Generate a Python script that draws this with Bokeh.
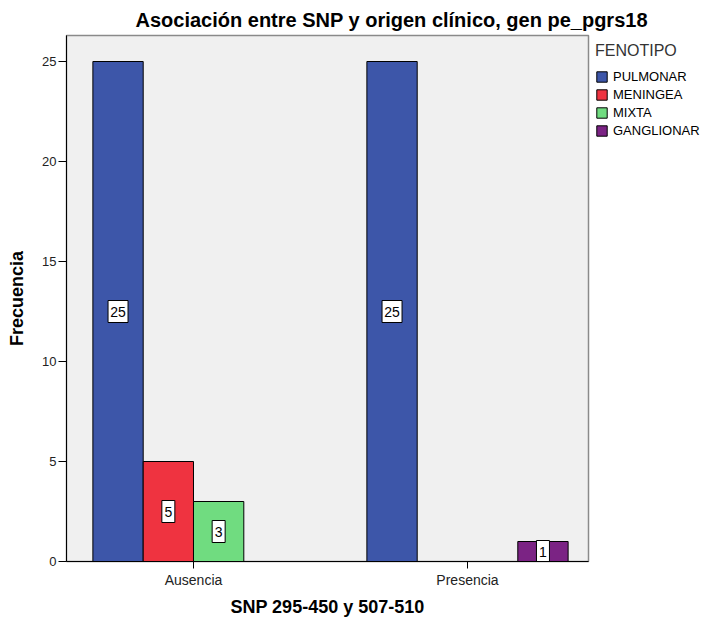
from bokeh.plotting import figure
from bokeh.models import ColumnDataSource, Legend, LegendItem, FixedTicker, Range1d
from bokeh.core.properties import value
from bokeh.embed import file_html
from bokeh.resources import INLINE

categories = ["Ausencia", "Presencia"]
series_names = ["PULMONAR", "MENINGEA", "MIXTA", "GANGLIONAR"]
pulmonar = [25, 25]
meningea = [5, 0]
mixta = [3, 0]
ganglionar = [0, 1]
colors = ["#3d56a9", "#ef3340", "#70dc80", "#7b2384"]
series_values = [pulmonar, meningea, mixta, ganglionar]

FONT = "Liberation Sans"
bar_w = 0.1836

p = figure(frame_width=522, frame_height=526, output_backend="svg", toolbar_location=None,
           x_range=Range1d(-0.4635, 1.4416), y_range=Range1d(0, 26.3),
           min_border_left=66, min_border_right=114, min_border_top=35, min_border_bottom=56)

p.background_fill_color = "#f0f0f0"
p.border_fill_color = "white"
p.outline_line_color = "#8a8a8a"
p.outline_line_width = 1.5
p.xgrid.visible = False
p.ygrid.visible = False

items = []
for i, (name, vals, col) in enumerate(zip(series_names, series_values, colors)):
    xs = [j + (i - 1.5) * bar_w for j in range(len(categories))]
    src = ColumnDataSource(dict(x=xs, top=vals))
    r = p.vbar(x="x", top="top", width=bar_w, source=src, fill_color=col,
               line_color="black", line_width=1)
    items.append(LegendItem(label=name, renderers=[r]))
    xs_l = [x for x, v in zip(xs, vals) if v > 0]
    src_l = ColumnDataSource(dict(x=xs_l, y=[v / 2 for v in vals if v > 0],
                                  lab=[str(v) for v in vals if v > 0]))
    src_l.data["w"] = [6 + 7 * len(s) for s in src_l.data["lab"]]
    p.rect(x="x", y="y", width="w", height=22, width_units="screen", height_units="screen",
           source=src_l, fill_color="white", line_color="black", line_width=1)
    p.text(x="x", y="y", text="lab", source=src_l, text_align="center",
           text_baseline="middle", text_font=value(FONT), text_font_size="14px",
           text_color="black")

legend = Legend(items=items, location="top_left", title="FENOTIPO",
                title_text_font=FONT, title_text_font_size="16px",
                title_text_font_style="normal", title_text_color="#333333",
                title_standoff=9,
                label_text_font=FONT, label_text_font_size="13px", label_text_color="black",
                glyph_width=13, glyph_height=13, label_height=13, spacing=3,
                label_standoff=5, padding=0, margin=7,
                background_fill_alpha=0, border_line_color=None)
p.add_layout(legend, "right")

p.title.text = "Asociación entre SNP y origen clínico, gen pe_pgrs18"
p.title.text_font = FONT
p.title.text_font_size = "20px"
p.title.text_font_style = "bold"
p.title.align = "left"
p.title.offset = 69
p.title.text_color = "black"

p.xaxis.ticker = FixedTicker(ticks=[0, 1])
p.xaxis.major_label_overrides = {0: "Ausencia", 1: "Presencia"}
p.xaxis.axis_label = "SNP 295-450 y 507-510"
p.xaxis.major_tick_in = 0
p.xaxis.major_tick_out = 7
p.xaxis.major_label_standoff = 3
p.xaxis.minor_tick_line_color = None
p.yaxis.ticker = FixedTicker(ticks=[0, 5, 10, 15, 20, 25])
p.yaxis.axis_label = "Frecuencia"
p.yaxis.major_tick_in = 0
p.yaxis.major_tick_out = 8
p.yaxis.major_label_standoff = 2
p.yaxis.minor_tick_line_color = None
for ax in (p.xaxis, p.yaxis):
    ax.axis_label_text_font = FONT
    ax.axis_label_text_font_size = "18px"
    ax.axis_label_text_font_style = "bold"
    ax.axis_label_text_color = "black"
    ax.major_label_text_font = FONT
    ax.major_label_text_color = "#222222"
    ax.axis_line_color = "black"
    ax.major_tick_line_color = "black"
p.xaxis.major_label_text_font_size = "14px"
p.yaxis.major_label_text_font_size = "13px"
p.xaxis.axis_label_standoff = 6
p.yaxis.axis_label_standoff = 12

open("out.html", "w").write(file_html(p, INLINE))
